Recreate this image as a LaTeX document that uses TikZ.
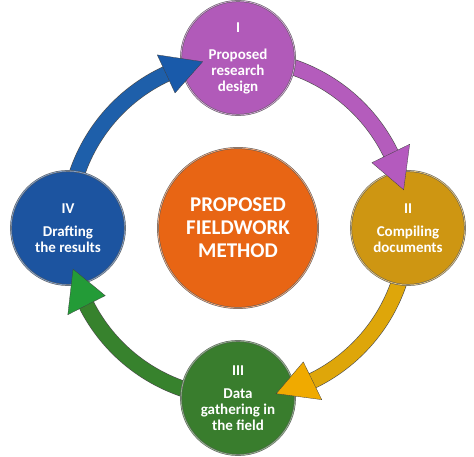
\documentclass[tikz,border=0pt]{standalone}
\usepackage{fontspec}
\setmainfont{Carlito}
\usetikzlibrary{positioning}

\definecolor{designcol}{RGB}{177,90,185}
\definecolor{compilecol}{RGB}{206,150,18}
\definecolor{fieldcol}{RGB}{57,125,45}
\definecolor{draftcol}{RGB}{28,84,160}
\definecolor{methodcol}{RGB}{232,101,20}
\definecolor{draftshaft}{RGB}{30,95,170}
\definecolor{designshaft}{RGB}{180,92,188}
\definecolor{compileshaft}{RGB}{222,166,10}
\definecolor{fieldshaft}{RGB}{55,130,45}
\definecolor{drafthead}{RGB}{25,90,170}
\definecolor{designhead}{RGB}{180,90,190}
\definecolor{compilehead}{RGB}{240,170,0}
\definecolor{fieldhead}{RGB}{35,155,55}

\begin{document}
\begin{tikzpicture}[
    x=1pt, y=1pt,
    node distance=170pt,
    stage/.style={circle, fill=#1, draw=gray!70!black, double=#1!55!white,
        double distance=0.8pt, line width=0.5pt, minimum size=114pt,
        inner sep=0pt, text=white, align=center,
        font=\fontsize{15}{16}\selectfont\bfseries},
    hub/.style={stage=methodcol, minimum size=160pt,
        font=\fontsize{21}{23}\selectfont\bfseries},
    shaft/.style={draw=gray!60!black, double=#1, double distance=15pt,
        line width=0.6pt},
    head/.style={fill=#1, draw=gray!50!black, line width=0.3pt}
]
\useasboundingbox (-238,-229) rectangle (236,228);

% Ring coordinates
\coordinate (draft-out) at (165:170);
\coordinate (design-out) at (75:170);
\coordinate (compile-out) at (-15:170);
\coordinate (field-out) at (-105:170);

% Shafts (behind the circles)
\draw[shaft=draftshaft] (draft-out) arc[start angle=165, end angle=113, radius=170];
\draw[shaft=designshaft] (design-out) arc[start angle=75, end angle=25, radius=170];
\draw[shaft=compileshaft] (compile-out) arc[start angle=-15, end angle=-66, radius=170];
\draw[shaft=fieldshaft] (field-out) arc[start angle=-105, end angle=-155, radius=170];

% Stages
\node[hub] (method) at (0,0) {PROPOSED\\FIELDWORK\\METHOD};
\node[stage=designcol, above of=method] (design) {I\\[11pt]Proposed\\research\\design};
\node[stage=compilecol, right of=method] (compile) {II\\[7pt]Compiling\\documents};
\node[stage=fieldcol, below of=method] (field) {III\\[7pt]Data\\gathering in\\the field};
\node[stage=draftcol, left of=method] (draft) {IV\\[7pt]Drafting\\the results};

% Arrow heads (over the circles)
\coordinate (draft-in) at (102:170);
\coordinate (design-in) at (13:170);
\coordinate (compile-in) at (-77:170);
\coordinate (field-in) at (-166:170);
\fill[head=drafthead] (115:191) -- (draft-in) -- (115:149) -- cycle;
\fill[head=designhead] (26:191) -- (design-in) -- (26:149) -- cycle;
\fill[head=compilehead] (-64:191) -- (compile-in) -- (-64:149) -- cycle;
\fill[head=fieldhead] (-153:191) -- (field-in) -- (-153:149) -- cycle;

\end{tikzpicture}
\end{document}
